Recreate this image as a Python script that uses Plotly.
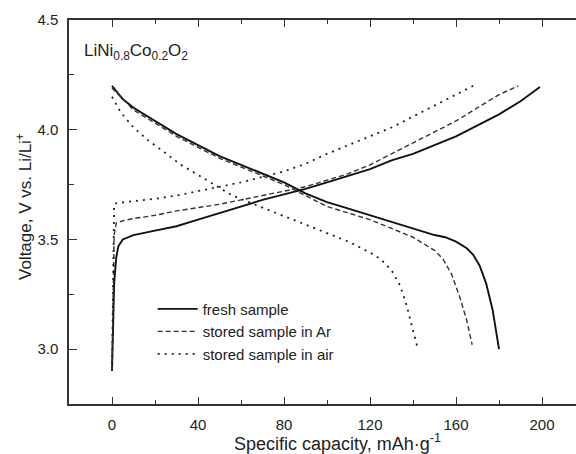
import plotly.graph_objects as go

# Fresh sample
fresh_charge_x = [0, 0.5, 1, 2, 3, 5, 10, 20, 30, 40, 50, 60, 70, 80, 90, 100, 110, 120, 130, 140, 150, 160, 170, 180, 190, 199]
fresh_charge_v = [2.90, 3.10, 3.30, 3.42, 3.47, 3.50, 3.52, 3.54, 3.56, 3.59, 3.62, 3.65, 3.68, 3.705, 3.73, 3.76, 3.79, 3.82, 3.86, 3.89, 3.93, 3.97, 4.02, 4.07, 4.13, 4.195]
fresh_dis_x = [0, 5, 10, 20, 30, 40, 50, 60, 70, 80, 90, 100, 110, 120, 130, 140, 150, 155, 160, 165, 168, 171, 174, 177, 180]
fresh_dis_v = [4.20, 4.14, 4.10, 4.04, 3.98, 3.93, 3.88, 3.84, 3.80, 3.76, 3.71, 3.67, 3.64, 3.61, 3.58, 3.55, 3.52, 3.51, 3.49, 3.46, 3.43, 3.38, 3.30, 3.18, 3.00]

# Stored in Ar
ar_charge_x = [0, 0.5, 1, 2, 5, 10, 20, 30, 40, 50, 60, 70, 80, 90, 100, 110, 120, 130, 140, 150, 160, 170, 180, 189]
ar_charge_v = [2.90, 3.30, 3.52, 3.575, 3.585, 3.595, 3.61, 3.63, 3.645, 3.66, 3.68, 3.70, 3.72, 3.74, 3.77, 3.80, 3.84, 3.89, 3.94, 3.99, 4.04, 4.10, 4.16, 4.20]
ar_dis_x = [0, 10, 20, 30, 40, 50, 60, 70, 80, 90, 100, 110, 120, 130, 140, 145, 150, 154, 158, 162, 165, 167.5]
ar_dis_v = [4.19, 4.09, 4.03, 3.97, 3.92, 3.87, 3.83, 3.79, 3.75, 3.70, 3.65, 3.62, 3.59, 3.55, 3.51, 3.48, 3.45, 3.41, 3.34, 3.23, 3.13, 3.02]

# Stored in air
air_charge_x = [0, 0.5, 1, 2, 5, 10, 20, 30, 40, 50, 60, 70, 80, 90, 100, 110, 120, 130, 140, 150, 160, 168]
air_charge_v = [2.90, 3.40, 3.66, 3.665, 3.67, 3.675, 3.685, 3.70, 3.72, 3.74, 3.76, 3.785, 3.81, 3.845, 3.89, 3.93, 3.97, 4.01, 4.06, 4.11, 4.16, 4.20]
air_dis_x = [0, 4, 10, 17, 24, 32, 39, 46, 56, 70, 87, 100, 110, 120, 125, 130, 134, 137, 140, 142]
air_dis_v = [4.15, 4.08, 4.01, 3.95, 3.90, 3.84, 3.80, 3.76, 3.70, 3.645, 3.58, 3.53, 3.49, 3.44, 3.41, 3.36, 3.29, 3.20, 3.09, 3.01]

labels = ["fresh sample", "stored sample in Ar", "stored sample in air"]
x_ticks = [0, 40, 80, 120, 160, 200]
x_minor = [20, 60, 100, 140, 180]
y_ticks = [3.0, 3.5, 4.0, 4.5]
y_ticktext = ["3.0", "3.5", "4.0", "4.5"]
y_minor = [3.25, 3.75, 4.25]

styles = [
    dict(color="#111111", width=1.9, dash="solid"),
    dict(color="#333333", width=1.4, dash="5px,3px"),
    dict(color="#222222", width=1.8, dash="2px,5px"),
]

series = [
    (fresh_charge_x, fresh_charge_v, fresh_dis_x, fresh_dis_v),
    (ar_charge_x, ar_charge_v, ar_dis_x, ar_dis_v),
    (air_charge_x, air_charge_v, air_dis_x, air_dis_v),
]

fig = go.Figure()
for i, (cx, cv, dx, dv) in enumerate(series):
    fig.add_trace(go.Scatter(x=cx, y=cv, mode="lines", line=styles[i], name=labels[i],
                             legendgroup=labels[i], showlegend=True))
    fig.add_trace(go.Scatter(x=dx, y=dv, mode="lines", line=styles[i], name=labels[i],
                             legendgroup=labels[i], showlegend=False))

font_fam = "Liberation Sans, Arial, sans-serif"
W, H = 576, 454
l, r, t, b = 69, 0, 20, 50
pw, ph = W - l - r, H - t - b

def px2paper(px, py):
    return (px - l) / pw, (H - b - py) / ph

ax0, ay0 = px2paper(82, 52)
ax1, ay1 = px2paper(337, 442)
ax2, ay2 = px2paper(24, 207)

fig.update_layout(
    width=W, height=H,
    margin=dict(l=l, r=r, t=t, b=b),
    paper_bgcolor="white", plot_bgcolor="white",
    font=dict(family=font_fam, size=15, color="#222222"),
    showlegend=True,
    legend=dict(x=0.165, y=0.29, xanchor="left", yanchor="top",
                bgcolor="rgba(0,0,0,0)", font=dict(size=15, color="#222222"),
                tracegroupgap=0, itemwidth=40),
    xaxis=dict(range=[-20, 215.8], tickmode="array", tickvals=x_ticks,
               ticks="inside", ticklen=7, tickwidth=1.3, tickcolor="#333333",
               minor=dict(tickvals=x_minor, ticks="inside", ticklen=4, tickwidth=1.3, tickcolor="#333333"),
               showline=True, linecolor="#333333", linewidth=1.5, mirror="ticks",
               showgrid=False, zeroline=False, ticklabelstandoff=6,
               tickfont=dict(size=15, color="#222222")),
    yaxis=dict(range=[2.75, 4.5], tickmode="array", tickvals=y_ticks, ticktext=y_ticktext,
               ticks="inside", ticklen=8, tickwidth=1.3, tickcolor="#333333",
               minor=dict(tickvals=y_minor, ticks="inside", ticklen=5, tickwidth=1.3, tickcolor="#333333"),
               showline=True, linecolor="#333333", linewidth=1.5, mirror=False,
               showgrid=False, zeroline=False, ticklabelstandoff=6,
               tickfont=dict(size=15, color="#222222")),
    annotations=[
        dict(text="LiNi<sub>0.8</sub>Co<sub>0.2</sub>O<sub>2</sub>", x=ax0, y=ay0, xref="paper", yref="paper",
             showarrow=False, xanchor="left", yanchor="middle", font=dict(size=17, color="#222222")),
        dict(text="Specific capacity, mAh·g<sup>-1</sup>", x=ax1, y=ay1, xref="paper", yref="paper",
             showarrow=False, xanchor="center", yanchor="middle", font=dict(size=18, color="#222222")),
        dict(text="Voltage, V vs. Li/Li<sup>+</sup>", x=ax2, y=ay2, xref="paper", yref="paper",
             showarrow=False, textangle=-90, xanchor="center", yanchor="middle", font=dict(size=17, color="#222222")),
    ],
)

fig.write_html("out.html", config={"displayModeBar": False},
               post_script="document.body.style.margin='0';document.body.style.overflow='hidden';")
